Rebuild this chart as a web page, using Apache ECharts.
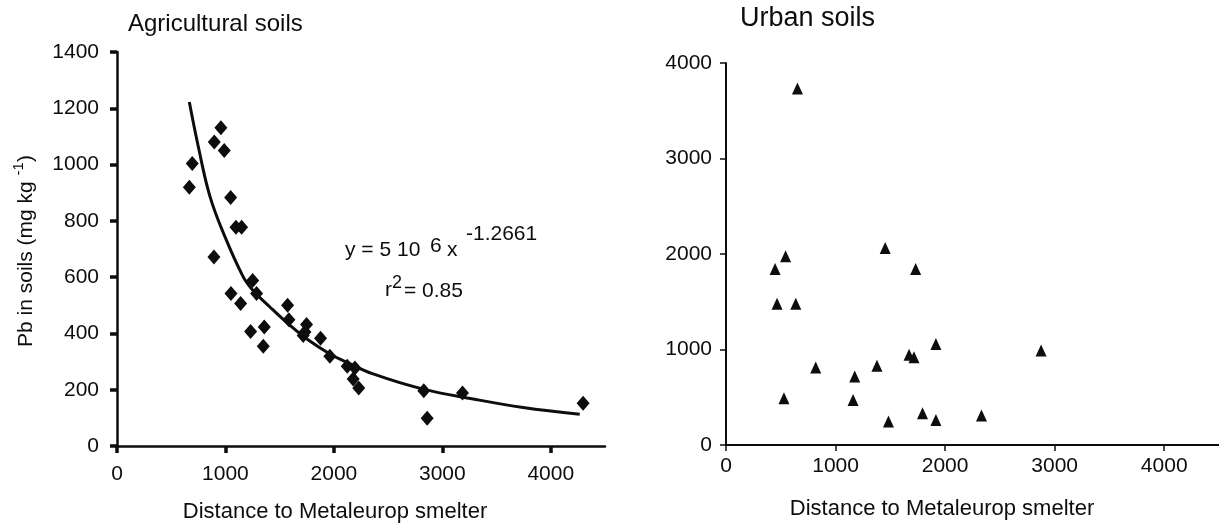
<!DOCTYPE html>
<html>
<head>
<meta charset="utf-8">
<script src="https://cdn.jsdelivr.net/npm/echarts@6/dist/echarts.min.js"></script>
<style>
html,body{margin:0;padding:0;background:#fff;}
#chart{width:1219px;height:524px;}
</style>
</head>
<body>
<div id="chart"></div>
<script>
// Agricultural soils: distance (m) and Pb (mg/kg)
var agriDistance = [958, 897, 989, 694, 667, 1048, 1097, 1149, 894, 1251, 1287, 1051, 1140, 1573, 1585, 1748, 1733, 1717, 1358, 1232, 1349, 1877, 1963, 2123, 2194, 2178, 2229, 2829, 2860, 3186, 4298];
var agriPb       = [1131, 1080, 1050, 1004, 919, 883, 777, 777, 672, 588, 542, 542, 506, 500, 449, 432, 405, 393, 423, 407, 354, 383, 319, 283, 277, 238, 206, 196, 99, 188, 152];
// Fitted power curve
var fitDistance = [667, 749, 857, 995, 1164, 1256, 1410, 1594, 1748, 1963, 2117, 2362, 2823, 3284, 3745, 4267];
var fitPb       = [1222, 1065, 887, 744, 601, 552, 494, 429, 381, 327, 298, 256, 202, 167, 137, 113];
// Urban soils
var urbanDistance = [652, 1453, 544, 448, 1731, 466, 637, 1916, 1671, 1716, 819, 1378, 1175, 529, 1160, 1794, 1483, 1916, 2876, 2332];
var urbanPb       = [3732, 2064, 1976, 1843, 1843, 1480, 1480, 1057, 944, 920, 811, 829, 717, 490, 472, 333, 245, 262, 990, 308];

var leftTicksY = [0, 1400, 200];
var rightTicksY = [0, 4000, 1000];
var ticksX = [0, 4500, 1000];

function zip(a, b) { return a.map(function (v, i) { return [v, b[i]]; }); }

var FONT = '"Liberation Sans", Arial, sans-serif';
var INK = '#0d0d0d';
var plain = function (v) { return String(v); };

var chart = echarts.init(document.getElementById('chart'), null, {renderer: 'canvas'});

function xAxisCfg(gridIndex, thick) {
  return {
    type: 'value', gridIndex: gridIndex, min: ticksX[0], max: ticksX[1], interval: ticksX[2],
    splitLine: {show: false},
    axisLine: {show: true, onZero: false, lineStyle: {color: INK, width: thick ? 2.5 : 2}},
    axisTick: {show: true, inside: false, length: thick ? 7 : 6, lineStyle: {color: INK, width: thick ? 3.5 : 1.5}},
    axisLabel: {show: true, color: INK, fontFamily: FONT, fontSize: 21, margin: thick ? 18 : 11, showMaxLabel: false, formatter: plain}
  };
}
function yAxisCfg(gridIndex, t, thick) {
  return {
    type: 'value', gridIndex: gridIndex, min: t[0], max: t[1], interval: t[2],
    splitLine: {show: false},
    axisLine: {show: true, onZero: false, lineStyle: {color: INK, width: thick ? 2.5 : 2}},
    axisTick: {show: true, inside: false, length: thick ? 7 : 6, lineStyle: {color: INK, width: thick ? 3.5 : 1.5}},
    axisLabel: {show: true, color: INK, fontFamily: FONT, fontSize: 21, margin: thick ? 18 : 14, formatter: plain}
  };
}

var option = {
  backgroundColor: '#fff',
  animation: false,
  grid: [
    {left: 117, top: 52, width: 488, height: 394},
    {left: 726, top: 63, width: 502, height: 382}
  ],
  xAxis: [xAxisCfg(0, true), xAxisCfg(1, false)],
  yAxis: [yAxisCfg(0, leftTicksY, true), yAxisCfg(1, rightTicksY, false)],
  series: [
    {
      type: 'line', xAxisIndex: 0, yAxisIndex: 0, data: zip(fitDistance, fitPb),
      smooth: 0.4, showSymbol: false, symbol: 'none',
      lineStyle: {color: INK, width: 3}, z: 2
    },
    {
      type: 'scatter', xAxisIndex: 0, yAxisIndex: 0, data: zip(agriDistance, agriPb),
      symbol: 'diamond', symbolSize: [13, 15],
      itemStyle: {color: INK, opacity: 1}, z: 3
    },
    {
      type: 'scatter', xAxisIndex: 1, yAxisIndex: 1, data: zip(urbanDistance, urbanPb),
      symbol: 'triangle', symbolSize: [11, 12],
      itemStyle: {color: INK, opacity: 1}, z: 3
    }
  ],
  graphic: [
    {type: 'text', left: 128, top: 12, style: {text: 'Agricultural soils', font: '24px ' + FONT, fill: INK}},
    {type: 'text', left: 740, top: 5, style: {text: 'Urban soils', font: '27px ' + FONT, fill: INK}},
    {type: 'text', x: 335, y: 512, style: {text: 'Distance to Metaleurop smelter', font: '22px ' + FONT, fill: INK, align: 'center', verticalAlign: 'middle'}},
    {type: 'text', x: 942, y: 509, style: {text: 'Distance to Metaleurop smelter', font: '22px ' + FONT, fill: INK, align: 'center', verticalAlign: 'middle'}},
    {type: 'text', x: 24, y: 251, rotation: Math.PI / 2,
      style: {
        text: '{n|Pb in soils (mg kg }{s|-1}{n|)}',
        align: 'center', verticalAlign: 'middle',
        rich: {
          n: {fontFamily: FONT, fontSize: 21, fill: INK, color: INK, verticalAlign: 'bottom', lineHeight: 26},
          s: {fontFamily: FONT, fontSize: 15, fill: INK, color: INK, verticalAlign: 'top', lineHeight: 26}
        }
      }
    },
    // regression equation
    {type: 'text', x: 345, y: 250, style: {text: 'y = 5 10', font: '21px ' + FONT, fill: INK, verticalAlign: 'middle'}},
    {type: 'text', x: 430, y: 246, style: {text: '6', font: '21px ' + FONT, fill: INK, verticalAlign: 'middle'}},
    {type: 'text', x: 447, y: 250, style: {text: 'x', font: '21px ' + FONT, fill: INK, verticalAlign: 'middle'}},
    {type: 'text', x: 466, y: 234, style: {text: '-1.2661', font: '21px ' + FONT, fill: INK, verticalAlign: 'middle'}},
    {type: 'text', x: 385, y: 290, style: {text: 'r', font: '21px ' + FONT, fill: INK, verticalAlign: 'middle'}},
    {type: 'text', x: 392, y: 283, style: {text: '2', font: '18px ' + FONT, fill: INK, verticalAlign: 'middle'}},
    {type: 'text', x: 404, y: 291, style: {text: '= 0.85', font: '21px ' + FONT, fill: INK, verticalAlign: 'middle'}}
  ]
};
chart.setOption(option);
</script>
</body>
</html>
